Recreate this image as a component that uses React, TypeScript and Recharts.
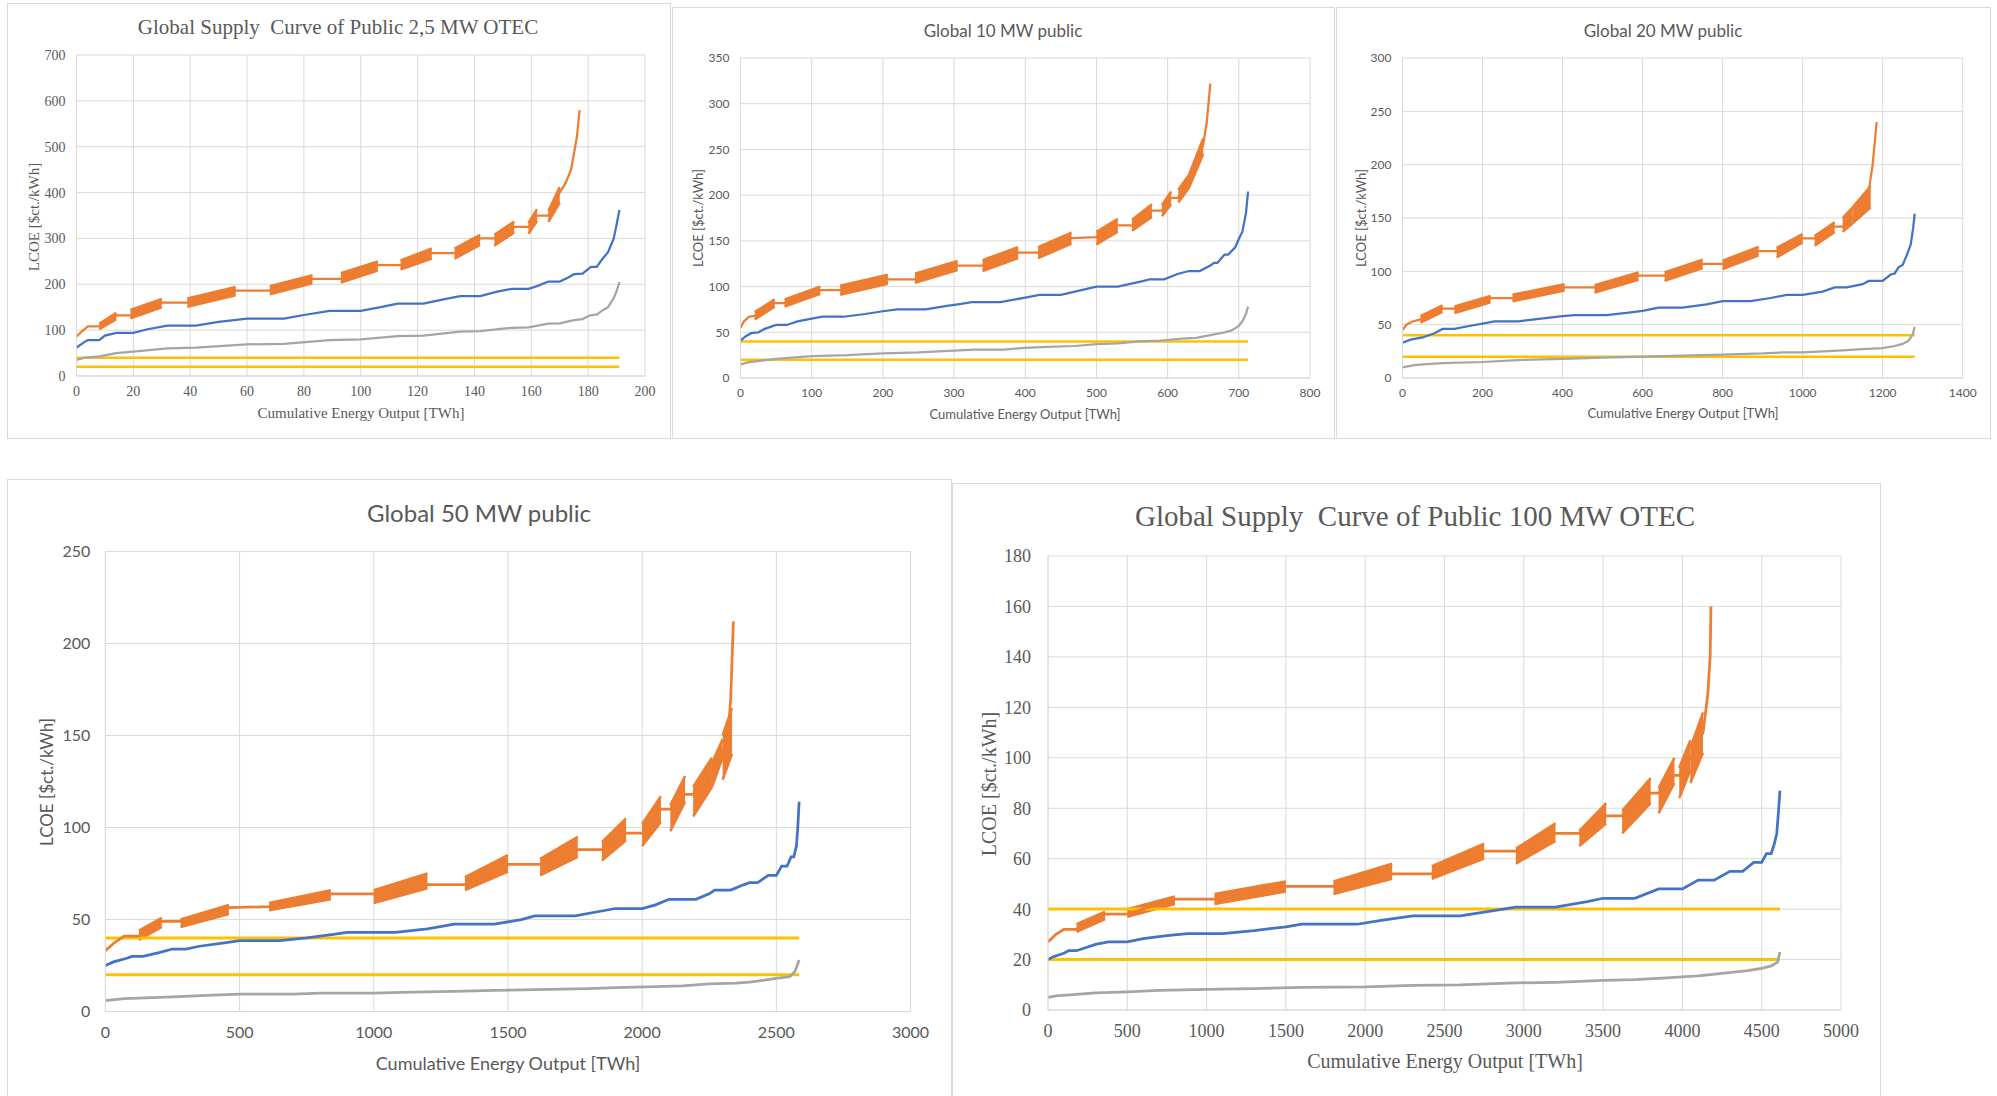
import React from 'react';
import { ComposedChart, Line, Area, XAxis, YAxis, CartesianGrid } from 'recharts';

const ORANGE = '#ED7D31';
const BLUE = '#4472C4';
const GRAY = '#A5A5A5';
const GOLD = '#FFC000';
const TEXT = '#595959';
const GRID = '#D9D9D9';

const SERIF = '"Liberation Serif", "Times New Roman", serif';
const SANS = 'Lato, "Open Sans", sans-serif';

// the two flat reference levels drawn in every panel
const goldLevels = [40, 20];

// ---- 2,5 MW ----
const p1XTicks = [0, 20, 40, 60, 80, 100, 120, 140, 160, 180, 200];
const p1YTicks = [0, 100, 200, 300, 400, 500, 600, 700];
const p1Orange = [
  [0, 86], [2, 98], [4, 108], [8, 108], [14, 132], [19, 132], [30, 160], [39, 160], [56, 186],
  [68, 186], [83, 212], [93, 212], [106, 242], [114, 242], [125, 268], [133, 268], [142, 300],
  [147, 300], [154, 325], [159, 325], [162, 350], [166, 350], [170, 400], [172, 420], [174, 450],
  [176, 520], [177, 580],
];
// [x0, x1, low0, high0, low1, high1]
const p1Bands = [
  [8, 14, 102, 114, 124, 138], [19, 30, 126, 144, 150, 168], [39, 56, 151, 169, 176, 194],
  [68, 83, 178, 196, 202, 220], [93, 106, 204, 224, 230, 250], [114, 125, 232, 252, 256, 278],
  [133, 142, 256, 278, 286, 308], [147, 154, 284, 308, 313, 337], [159, 162, 310, 334, 338, 364],
  [166, 170, 336, 360, 378, 412],
];
const p1Blue = [
  [0, 62], [3, 75], [4, 78], [8, 78], [10, 88], [14, 94], [20, 94], [25, 102], [32, 110], [42, 110],
  [50, 118], [60, 125], [73, 125], [80, 133], [89, 142], [100, 142], [107, 150], [113, 158],
  [122, 158], [130, 168], [135, 174], [142, 174], [148, 184], [153, 190], [159, 190], [162, 196],
  [166, 206], [170, 206], [173, 215], [175, 222], [178, 223], [181, 238], [183, 238], [185, 255],
  [187, 270], [189, 300], [190, 330], [191, 362],
];
const p1Gray = [
  [0, 35], [3, 40], [8, 43], [14, 50], [20, 53], [32, 60], [42, 62], [60, 69], [73, 70], [89, 78],
  [100, 80], [113, 87], [122, 88], [135, 97], [142, 98], [153, 105], [159, 106], [166, 114],
  [170, 115], [175, 122], [178, 124], [181, 133], [183, 134], [185, 143], [187, 150], [189, 170],
  [190, 185], [191, 205],
];
const p1End = 191;

// ---- 10 MW ----
const p2XTicks = [0, 100, 200, 300, 400, 500, 600, 700, 800];
const p2YTicks = [0, 50, 100, 150, 200, 250, 300, 350];
const p2Orange = [
  [0, 55], [5, 62], [12, 67], [20, 68], [48, 82], [62, 82], [112, 96], [140, 96], [207, 108],
  [245, 108], [305, 123], [340, 123], [390, 137], [418, 137], [465, 153], [500, 154], [530, 167],
  [550, 167], [578, 183], [592, 183], [605, 197], [615, 197], [630, 215], [640, 235], [650, 255],
  [655, 280], [660, 322],
];
const p2Bands = [
  [20, 48, 64, 72, 78, 86], [62, 112, 78, 86, 92, 100], [140, 207, 91, 101, 103, 113],
  [245, 305, 104, 114, 118, 128], [340, 390, 117, 129, 131, 143], [418, 465, 131, 143, 147, 159],
  [500, 530, 146, 160, 160, 174], [550, 578, 161, 173, 176, 190], [592, 605, 177, 189, 190, 204],
  [615, 630, 192, 206, 208, 222], [630, 650, 208, 222, 245, 262],
];
const p2Blue = [
  [0, 41], [8, 46], [15, 49], [25, 50], [35, 54], [50, 58], [65, 58], [80, 62], [100, 65], [115, 67],
  [145, 67], [175, 70], [200, 73], [220, 75], [260, 75], [290, 79], [310, 81], [325, 83], [365, 83],
  [400, 88], [420, 91], [450, 91], [500, 100], [530, 100], [565, 106], [575, 108], [595, 108],
  [615, 114], [630, 117], [645, 117], [660, 123], [665, 126], [670, 126], [680, 135], [685, 135],
  [695, 143], [700, 152], [705, 160], [710, 180], [713, 204],
];
const p2Gray = [
  [0, 15], [10, 17], [30, 19], [50, 21], [100, 24], [150, 25], [200, 27], [250, 28], [300, 30],
  [330, 31], [370, 31], [400, 33], [430, 34], [470, 35], [500, 37], [530, 38], [560, 40], [590, 41],
  [620, 43], [640, 44], [660, 47], [680, 50], [690, 52], [700, 57], [705, 62], [710, 70], [713, 78],
];
const p2End = 713;

// ---- 20 MW ----
const p3XTicks = [0, 200, 400, 600, 800, 1000, 1200, 1400];
const p3YTicks = [0, 50, 100, 150, 200, 250, 300];
const p3Orange = [
  [0, 45], [10, 50], [25, 53], [45, 55], [100, 65], [130, 65], [220, 75], [275, 75], [405, 85],
  [480, 85], [590, 96], [655, 96], [750, 107], [800, 107], [890, 119], [935, 119], [1000, 131],
  [1030, 131], [1080, 142], [1100, 142], [1125, 150], [1150, 158], [1165, 175], [1175, 200],
  [1185, 240],
];
const p3Bands = [
  [45, 100, 52, 58, 62, 68], [130, 220, 61, 67, 71, 77], [275, 405, 72, 78, 82, 88],
  [480, 590, 80, 87, 92, 99], [655, 750, 91, 99, 103, 111], [800, 890, 102, 110, 115, 123],
  [935, 1000, 113, 122, 127, 135], [1030, 1080, 124, 133, 137, 146], [1100, 1125, 137, 150, 145, 160],
  [1125, 1170, 145, 160, 160, 180],
];
const p3Blue = [
  [0, 33], [20, 36], [50, 38], [80, 42], [100, 46], [130, 46], [170, 49], [200, 51], [230, 53],
  [290, 53], [330, 55], [400, 58], [430, 59], [510, 59], [560, 61], [600, 63], [640, 66], [700, 66],
  [760, 69], [800, 72], [870, 72], [920, 75], [960, 78], [1000, 78], [1050, 81], [1080, 85],
  [1110, 85], [1150, 88], [1165, 91], [1200, 91], [1220, 97], [1230, 98], [1240, 104], [1250, 106],
  [1260, 115], [1270, 125], [1276, 140], [1280, 154],
];
const p3Gray = [
  [0, 10], [30, 12], [60, 13], [100, 14], [200, 15], [300, 17], [400, 18], [500, 19], [600, 20],
  [700, 21], [800, 22], [900, 23], [950, 24], [1000, 24], [1100, 26], [1150, 27], [1200, 28],
  [1230, 30], [1250, 32], [1265, 35], [1275, 41], [1280, 48],
];
const p3End = 1280;

// ---- 50 MW ----
const p4XTicks = [0, 500, 1000, 1500, 2000, 2500, 3000];
const p4YTicks = [0, 50, 100, 150, 200, 250];
const p4Orange = [
  [0, 33], [30, 37], [60, 40], [70, 41], [125, 41], [210, 49], [280, 49], [460, 56.5], [610, 57],
  [840, 64], [1000, 64], [1200, 69], [1340, 69], [1500, 80], [1620, 80], [1760, 88], [1850, 88],
  [1940, 97], [2000, 97], [2070, 110], [2105, 110], [2160, 118], [2190, 118], [2260, 128],
  [2300, 140], [2320, 150], [2330, 170], [2340, 212],
];
const p4Bands = [
  [125, 210, 39, 44, 46, 51], [280, 460, 46, 50, 53, 58], [610, 840, 55, 59, 61, 66],
  [1000, 1200, 59, 66, 67, 75], [1340, 1500, 66, 73, 76, 85], [1620, 1760, 74, 83, 84, 95],
  [1850, 1940, 82, 92, 93, 105], [2000, 2070, 90, 102, 103, 117], [2105, 2160, 98, 112, 114, 128],
  [2190, 2260, 106, 122, 122, 138], [2260, 2300, 122, 135, 138, 148], [2300, 2335, 126, 150, 140, 165],
];
const p4Blue = [
  [0, 25], [30, 27], [80, 29], [100, 30], [140, 30], [200, 32], [250, 34], [300, 34], [350, 35.5],
  [450, 37.5], [500, 38.5], [650, 38.5], [750, 40], [850, 42], [900, 43], [1080, 43], [1200, 45],
  [1300, 47.5], [1450, 47.5], [1550, 50], [1600, 52], [1750, 52], [1900, 56], [2000, 56], [2050, 58],
  [2100, 61], [2200, 61], [2250, 64], [2270, 66], [2330, 66], [2380, 69], [2400, 70], [2430, 70],
  [2470, 74], [2500, 74], [2520, 79], [2540, 79], [2555, 84], [2565, 84], [2575, 90], [2580, 100],
  [2585, 114],
];
const p4Gray = [
  [0, 6], [70, 7], [150, 7.5], [250, 8], [400, 9], [500, 9.5], [700, 9.5], [800, 10], [1000, 10],
  [1100, 10.5], [1300, 11], [1450, 11.5], [1600, 12], [1800, 12.5], [1900, 13], [2050, 13.5],
  [2150, 14], [2250, 15], [2350, 15.5], [2400, 16], [2450, 17], [2500, 18], [2550, 19], [2570, 22],
  [2585, 28],
];
const p4End = 2585;

// ---- 100 MW ----
const p5XTicks = [0, 500, 1000, 1500, 2000, 2500, 3000, 3500, 4000, 4500, 5000];
const p5YTicks = [0, 20, 40, 60, 80, 100, 120, 140, 160, 180];
const p5Orange = [
  [0, 27], [50, 30], [100, 32], [180, 32], [360, 38], [500, 38], [800, 44], [1050, 44], [1500, 49],
  [1800, 49], [2170, 54], [2420, 54], [2750, 63], [2950, 63], [3200, 70], [3350, 70], [3520, 77],
  [3620, 77], [3800, 86], [3850, 86], [3950, 93], [3980, 93], [4050, 100], [4130, 110], [4160, 125],
  [4175, 140], [4180, 160],
];
const p5Bands = [
  [180, 360, 31, 34, 36, 39], [500, 800, 37, 40, 42, 45], [1050, 1500, 42, 46, 47, 51],
  [1800, 2170, 46, 51, 52, 58], [2420, 2750, 52, 57, 60, 66], [2950, 3200, 58, 64, 67, 74],
  [3350, 3520, 65, 71, 74, 82], [3620, 3800, 70, 79, 82, 92], [3850, 3950, 78, 88, 90, 100],
  [3980, 4050, 84, 96, 95, 107], [4050, 4130, 90, 104, 102, 118],
];
const p5Blue = [
  [0, 20], [30, 21], [100, 22.5], [130, 23.5], [180, 23.5], [250, 25], [300, 26], [380, 27],
  [500, 27], [600, 28.3], [750, 29.5], [880, 30.3], [1100, 30.3], [1300, 31.5], [1500, 33],
  [1600, 34], [1950, 34], [2100, 35.5], [2300, 37.3], [2600, 37.3], [2750, 38.8], [2950, 40.8],
  [3200, 40.8], [3400, 43], [3500, 44.3], [3700, 44.3], [3850, 48], [4000, 48], [4100, 51.5],
  [4200, 51.5], [4300, 55], [4380, 55], [4450, 58.5], [4500, 58.5], [4530, 62], [4560, 62],
  [4580, 66], [4595, 70], [4605, 78], [4615, 87],
];
const p5Gray = [
  [0, 5], [50, 5.6], [200, 6.3], [300, 6.8], [500, 7.2], [700, 7.8], [1000, 8.2], [1300, 8.5],
  [1600, 9], [2000, 9.2], [2300, 9.8], [2600, 10], [2900, 10.7], [3200, 11], [3500, 11.7],
  [3700, 12], [3900, 12.7], [4100, 13.5], [4250, 14.5], [4400, 15.5], [4500, 16.5], [4560, 17.5],
  [4600, 19], [4615, 23],
];
const p5End = 4615;

const X_TITLE = 'Cumulative Energy Output [TWh]';
const Y_TITLE = 'LCOE [$ct./kWh]';

type Pt = number[];
type Cfg = {
  title: string;
  font: string;
  box: number[]; // left, top, width, height (page px)
  plot: number[]; // left, top, right, bottom (page px)
  titleAt: number[]; // cx, cy, size
  xTitleAt: number[];
  yTitleAt: number[];
  tickFont: number;
  xGap: number;
  yGap: number;
  lw: number;
  xTicks: number[];
  yTicks: number[];
  orange: Pt[];
  bands: Pt[];
  blue: Pt[];
  gray: Pt[];
  end: number;
};

const panels: Cfg[] = [
  {
    title: 'Global Supply  Curve of Public 2,5 MW OTEC', font: SERIF,
    box: [7, 3, 664, 436], plot: [76.5, 55, 645, 376],
    titleAt: [338, 27, 21], xTitleAt: [361, 413, 15], yTitleAt: [34, 217, 15],
    tickFont: 14, xGap: 10, yGap: 11, lw: 2.25,
    xTicks: p1XTicks, yTicks: p1YTicks, orange: p1Orange, bands: p1Bands, blue: p1Blue, gray: p1Gray, end: p1End,
  },
  {
    title: 'Global 10 MW public', font: SANS,
    box: [672, 7, 663, 432], plot: [740.5, 58, 1310, 378],
    titleAt: [1003, 30, 17], xTitleAt: [1025, 414, 13], yTitleAt: [698, 218, 13],
    tickFont: 12, xGap: 10, yGap: 11, lw: 2.25,
    xTicks: p2XTicks, yTicks: p2YTicks, orange: p2Orange, bands: p2Bands, blue: p2Blue, gray: p2Gray, end: p2End,
  },
  {
    title: 'Global 20 MW public', font: SANS,
    box: [1336, 7, 655, 432], plot: [1402.5, 58, 1962.7, 378],
    titleAt: [1663, 30, 17], xTitleAt: [1683, 413, 13], yTitleAt: [1361, 218, 13],
    tickFont: 12, xGap: 10, yGap: 11, lw: 2.25,
    xTicks: p3XTicks, yTicks: p3YTicks, orange: p3Orange, bands: p3Bands, blue: p3Blue, gray: p3Gray, end: p3End,
  },
  {
    title: 'Global 50 MW public', font: SANS,
    box: [7, 479, 945, 640], plot: [105.4, 551.4, 910.5, 1011.6],
    titleAt: [479, 513, 24], xTitleAt: [508, 1063, 18], yTitleAt: [46, 782, 17],
    tickFont: 16, xGap: 15, yGap: 15, lw: 2.75,
    xTicks: p4XTicks, yTicks: p4YTicks, orange: p4Orange, bands: p4Bands, blue: p4Blue, gray: p4Gray, end: p4End,
  },
  {
    title: 'Global Supply  Curve of Public 100 MW OTEC', font: SERIF,
    box: [952, 483, 929, 640], plot: [1048, 556, 1841, 1010],
    titleAt: [1415, 516, 29], xTitleAt: [1445, 1061, 20], yTitleAt: [989, 784, 20],
    tickFont: 18, xGap: 14, yGap: 17, lw: 2.75,
    xTicks: p5XTicks, yTicks: p5YTicks, orange: p5Orange, bands: p5Bands, blue: p5Blue, gray: p5Gray, end: p5End,
  },
];

const pts = (arr: Pt[]) => arr.map(([x, y]) => ({ x, y }));

function Caption({ at, font, text, rotate }: { at: number[]; font: string; text: string; rotate?: boolean }) {
  return (
    <div
      style={{
        position: 'absolute', left: at[0], top: at[1], fontSize: at[2], fontFamily: font, color: TEXT,
        lineHeight: 1, whiteSpace: 'pre',
        transform: `translate(-50%, -50%)${rotate ? ' rotate(-90deg)' : ''}`,
      }}
    >
      {text}
    </div>
  );
}

function Panel({ c }: { c: Cfg }) {
  const [L, T, W, H] = c.box;
  const [pl, pt, pr, pb] = c.plot;
  const xh = 40;
  const margin = { left: 4, top: pt - T, right: L + W - pr, bottom: T + H - pb - xh };
  const yw = pl - L - 4;
  const xMax = c.xTicks[c.xTicks.length - 1];
  const yMax = c.yTicks[c.yTicks.length - 1];
  const tick = { fill: TEXT, fontSize: c.tickFont, fontFamily: c.font };

  return (
    <>
      <div style={{ position: 'absolute', left: L, top: T, width: W, height: H, border: `1.5px solid ${GRID}`, boxSizing: 'border-box' }} />
      <div style={{ position: 'absolute', left: L, top: T }}>
        <ComposedChart width={W} height={H} margin={margin}>
          <CartesianGrid stroke={GRID} strokeWidth={1} />
          <XAxis
            type="number" dataKey="x" domain={[0, xMax]} ticks={c.xTicks} interval={0} allowDataOverflow
            height={xh} tick={tick} tickLine={false} tickSize={0} tickMargin={c.xGap} axisLine={{ stroke: GRID }}
          />
          <YAxis
            type="number" domain={[0, yMax]} ticks={c.yTicks} interval={0} allowDataOverflow
            width={yw} tick={tick} tickLine={false} tickSize={0} tickMargin={c.yGap} axisLine={{ stroke: GRID }}
          />
          {goldLevels.map((lv) => (
            <Line
              key={`g${lv}`} data={[{ x: 0, y: lv }, { x: c.end, y: lv }]} dataKey="y" type="linear"
              stroke={GOLD} strokeWidth={c.lw + 0.25} dot={false} isAnimationActive={false}
            />
          ))}
          <Line data={pts(c.gray)} dataKey="y" type="linear" stroke={GRAY} strokeWidth={c.lw} dot={false} isAnimationActive={false} />
          <Line data={pts(c.blue)} dataKey="y" type="linear" stroke={BLUE} strokeWidth={c.lw} dot={false} isAnimationActive={false} />
          {c.bands.map(([x0, x1, lo0, hi0, lo1, hi1], i) => (
            <Area
              key={`b${i}`} data={[{ x: x0, r: [lo0, hi0] }, { x: x1, r: [lo1, hi1] }]} dataKey="r" type="linear"
              stroke={ORANGE} strokeWidth={2.5} strokeLinejoin="bevel" fill={ORANGE} fillOpacity={1}
              dot={false} activeDot={false} isAnimationActive={false}
            />
          ))}
          <Line data={pts(c.orange)} dataKey="y" type="linear" stroke={ORANGE} strokeWidth={c.lw} dot={false} isAnimationActive={false} />
        </ComposedChart>
      </div>
      <Caption at={c.titleAt} font={c.font} text={c.title} />
      <Caption at={c.xTitleAt} font={c.font} text={X_TITLE} />
      <Caption at={c.yTitleAt} font={c.font} text={Y_TITLE} rotate />
    </>
  );
}

export default function App() {
  return (
    <div style={{ position: 'absolute', left: 0, top: 0, width: 1997, height: 1096, overflow: 'hidden', background: '#fff' }}>
      {panels.map((c, i) => (
        <Panel key={i} c={c} />
      ))}
    </div>
  );
}
